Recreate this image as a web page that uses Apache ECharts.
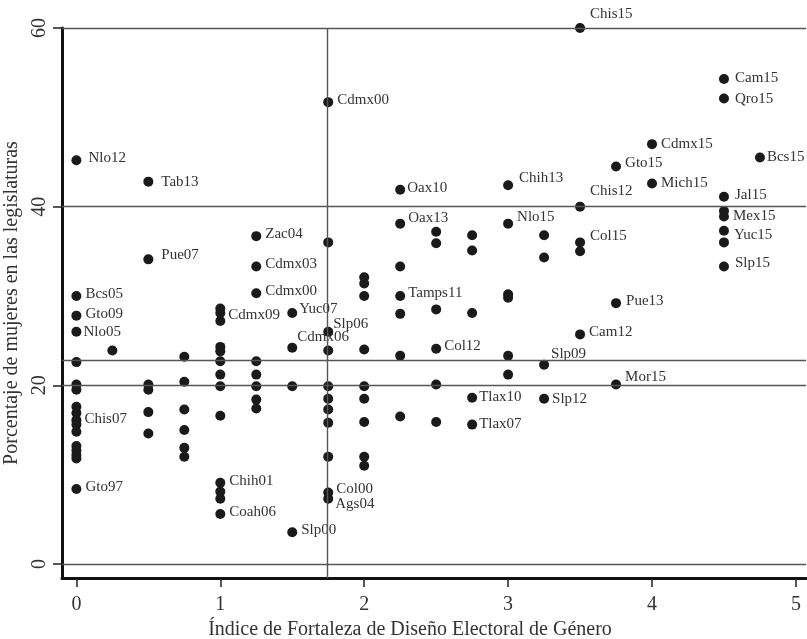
<!DOCTYPE html>
<html><head><meta charset="utf-8">
<script src="https://cdn.jsdelivr.net/npm/echarts@6/dist/echarts.min.js"></script>
<style>html,body{margin:0;padding:0;background:#fff}#c{width:807px;height:639px}</style>
</head><body><div id="c"></div>
<script>
// ---- data ----
const indexScores = [
  0,0,0,0,0,0,0,0,0,0,0,0,0,0,0,0,0,
  0.25,
  0.5,0.5,0.5,0.5,0.5,0.5,
  0.75,0.75,0.75,0.75,0.75,0.75,
  1,1,1,1,1,1,1,1,1,1,1,1,1,
  1.25,1.25,1.25,1.25,1.25,1.25,1.25,1.25,
  1.5,1.5,1.5,1.5,
  1.75,1.75,1.75,1.75,1.75,1.75,1.75,1.75,1.75,1.75,1.75,
  2,2,2,2,2,2,2,2,2,
  2.25,2.25,2.25,2.25,2.25,2.25,2.25,
  2.5,2.5,2.5,2.5,2.5,2.5,
  2.75,2.75,2.75,2.75,2.75,
  3,3,3,3,3,3,
  3.25,3.25,3.25,3.25,
  3.5,3.5,3.5,3.5,3.5,
  3.75,3.75,3.75,
  4,4,
  4.5,4.5,4.5,4.5,4.5,4.5,4.5,4.5,
  4.75
];
const womenPct = [
  45.2,30.0,27.8,26.0,22.6,20.1,19.5,17.6,16.9,16.1,15.6,14.8,13.2,12.7,12.2,11.8,8.4,
  23.9,
  42.8,34.1,20.1,19.5,17.0,14.6,
  23.2,20.4,17.3,15.0,13.0,12.0,
  28.6,28.1,27.2,24.3,23.8,22.7,21.2,19.9,16.6,9.1,8.1,7.3,5.6,
  36.7,33.3,30.3,22.7,21.2,19.9,18.4,17.4,
  28.1,24.2,19.9,3.55,
  51.7,36.0,26.0,23.9,19.9,18.5,17.3,15.8,12.0,8.0,7.3,
  32.1,31.4,30.0,24.0,19.9,18.5,15.9,12.0,11.0,
  41.9,38.1,33.3,30.0,28.0,23.3,16.5,
  37.2,35.9,28.5,24.1,20.1,15.9,
  36.8,35.1,28.1,18.6,15.6,
  42.4,38.1,30.2,29.8,23.3,21.2,
  36.8,34.3,22.3,18.5,
  60.0,40.0,36.0,35.0,25.7,
  44.5,29.2,20.1,
  47.0,42.6,
  54.3,52.1,41.1,39.5,38.9,37.3,36.0,33.3,
  45.5
];
const stateLabels = [
  'Nlo12','Bcs05','Gto09','Nlo05','','','','','','Chis07','','','','','','','Gto97',
  '',
  'Tab13','Pue07','','','','',
  '','','','','','',
  '','Cdmx09','','','','','','','','Chih01','','','Coah06',
  'Zac04','Cdmx03','Cdmx00','','','','','',
  'Yuc07','Cdmx06','','Slp00',
  'Cdmx00','','Slp06','','','','','','','Col00','Ags04',
  '','','','','','','','','',
  'Oax10','Oax13','','Tamps11','','','',
  '','','','Col12','','',
  '','','','Tlax10','Tlax07',
  'Chih13','Nlo15','','','','',
  '','','Slp09','Slp12',
  'Chis15','Chis12','Col15','','Cam12',
  'Gto15','Pue13','Mor15',
  'Cdmx15','Mich15',
  'Cam15','Qro15','Jal15','','Mex15','Yuc15','','Slp15',
  'Bcs15'
];
const xTicks = [0,1,2,3,4,5];
const yTicks = [0,20,40,60];
const hLines = [0,20,22.78,40,60];
const vLines = [1.74];
const xTitle = 'Índice de Fortaleza de Diseño Electoral de Género';
const yTitle = 'Porcentaje de mujeres en las legislaturas';

// ---- label placement (style only): [dx, dy] of text-left / text-middle from dot centre ----
const labelShift = {
  Nlo12:[12,-2], Tab13:[13,0], Pue07:[13,-4], Nlo05:[7,0], Chis07:[8,-1],
  Cdmx09:[8,2], Yuc07:[7,-4], Cdmx06:[5,-11], Slp06:[5,-8], Col00:[8,-3], Ags04:[7,5],
  Oax10:[7,-2], Oax13:[8,-6], Tamps11:[8,-3], Col12:[8,-3], Tlax10:[7,-1], Tlax07:[7,-1],
  Chih13:[11,-7], Nlo15:[9,-7], Chis15:[10,-14], Chis12:[10,-16], Col15:[10,-6],
  Slp09:[7,-11], Slp12:[8,0], Pue13:[10,-2], Mor15:[9,-7], Gto15:[9,-3], Cdmx15:[9,0],
  Mich15:[9,0], Cam15:[11,-1], Qro15:[11,0], Jal15:[11,-2], Mex15:[9,0], Yuc15:[10,4],
  Slp15:[11,-3], Bcs15:[7,0], Cam12:[9,-2]
};
const FONT = '"Liberation Serif","Times New Roman",serif';
const SYM = 10;

const pts = indexScores.map((x,i) => {
  const lbl = stateLabels[i];
  const s = labelShift[lbl] || [9,-2];
  return {
    value:[x, womenPct[i]], name: lbl,
    label: lbl ? {show:true, position:[SYM/2 + s[0], SYM/2 + s[1]], align:'left', verticalAlign:'middle', formatter: lbl} : {show:false}
  };
});

const chart = echarts.init(document.getElementById('c'), null, {renderer:'canvas'});
chart.setOption({
  animation:false,
  backgroundColor:'#fff',
  grid:{left:62, right:1, top:28, bottom:61, containLabel:false, outerBoundsMode:'none'},
  xAxis:{
    type:'value', min:-0.1, max:5.07,
    axisLine:{show:true, onZero:false, lineStyle:{color:'#111', width:3}},
    axisTick:{show:true, customValues:xTicks, length:9, lineStyle:{color:'#222', width:1.5}},
    axisLabel:{show:true, customValues:xTicks, margin:17, fontFamily:FONT, fontSize:20, color:'#333'},
    splitLine:{show:false},
    name:xTitle, nameLocation:'middle', nameGap:40,
    nameTextStyle:{fontFamily:FONT, fontSize:20, color:'#333', padding:[0,48,0,0]}
  },
  yAxis:{
    type:'value', min:-1.57, max:60,
    axisLine:{show:true, onZero:false, lineStyle:{color:'#111', width:3}},
    axisTick:{show:true, customValues:yTicks, length:9, lineStyle:{color:'#222', width:1.5}},
    axisLabel:{show:true, customValues:yTicks, rotate:90, margin:12, fontFamily:FONT, fontSize:20, color:'#333'},
    splitLine:{show:false},
    name:yTitle, nameLocation:'middle', nameRotate:90, nameGap:26,
    nameTextStyle:{fontFamily:FONT, fontSize:20, color:'#333'}
  },
  series:[
    {
      type:'line', data:[], z:1, silent:true,
      markLine:{
        silent:true, symbol:['none','none'], label:{show:false}, animation:false,
        lineStyle:{color:'#555', width:1.4, type:'solid'},
        data: hLines.map(v => ({yAxis:v})).concat(vLines.map(v => ({xAxis:v})))
      }
    },
    {
      type:'scatter', z:3, clip:false, symbol:'circle', symbolSize:SYM,
      itemStyle:{color:'#1a1a1a', opacity:1},
      label:{fontFamily:FONT, fontSize:15, color:'#333'},
      emphasis:{disabled:true},
      data:pts
    }
  ]
});
</script>
</body></html>
